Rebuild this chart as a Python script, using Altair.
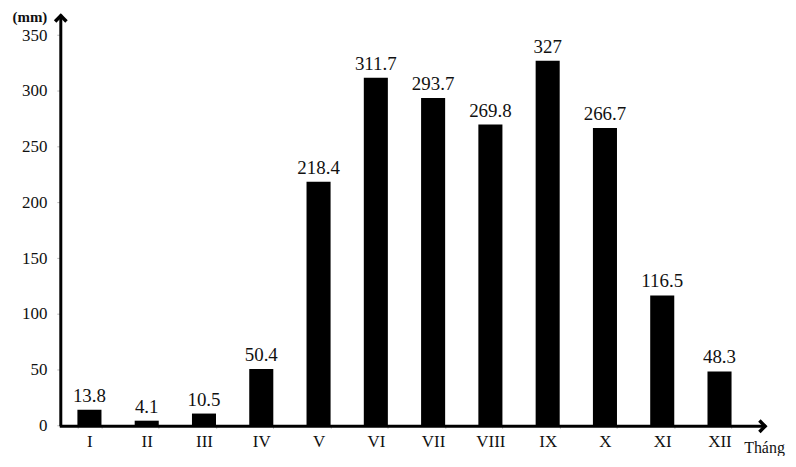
import altair as alt
import pandas as pd

months = ["I", "II", "III", "IV", "V", "VI", "VII", "VIII", "IX", "X", "XI", "XII"]
rain = [13.8, 4.1, 10.5, 50.4, 218.4, 311.7, 293.7, 269.8, 327, 266.7, 116.5, 48.3]
y_ticks = [0, 50, 100, 150, 200, 250, 300, 350]

df = pd.DataFrame({"month": months, "rain": rain, "label": [f"{v:g}" for v in rain]})
one = pd.DataFrame({"k": [0]})

W, H = 710, 414
FONT = "Liberation Serif"

xs = alt.X("month:N", sort=months,
           scale=alt.Scale(range=[0, 690], paddingInner=0.58, paddingOuter=0.29),
           axis=alt.Axis(title=None, domain=False, labelAngle=0, labelFont=FONT, labelFontSize=17,
                         labelColor="#111", tickColor="#bbb", tickSize=3, tickBand="extent",
                         labelPadding=5))
ys = alt.Y("rain:Q", scale=alt.Scale(domain=[0, 370], nice=False),
           axis=alt.Axis(title=None, domain=False, values=y_ticks, labelFont=FONT, labelFontSize=17,
                         labelColor="#111", tickColor="#bbb", tickSize=4, labelPadding=10,
                         grid=False))

base = alt.Chart(df)
bars = base.mark_bar(color="black").encode(x=xs, y=ys)
labels = base.mark_text(font=FONT, fontSize=19, baseline="bottom", dy=-4, color="#111").encode(
    x=alt.X("month:N", sort=months), y="rain:Q", text="label:N")

yaxis = alt.Chart(one).mark_rule(color="black", strokeWidth=3).encode(
    x=alt.value(0), y=alt.value(2), y2=alt.value(H + 1))
xaxis = alt.Chart(one).mark_rule(color="black", strokeWidth=3).encode(
    x=alt.value(-1), x2=alt.value(W - 2), y=alt.value(H + 1))
up_arrow = alt.Chart(one).mark_point(shape="M-1,1L0,0L1,1", filled=False, color="black",
                                     strokeWidth=3.5, size=130, opacity=1).encode(
    x=alt.value(0), y=alt.value(3))
right_arrow = alt.Chart(one).mark_point(shape="M-1,-1L0,0L-1,1", filled=False, color="black",
                                        strokeWidth=3.5, size=130, opacity=1).encode(
    x=alt.value(W - 3), y=alt.value(H + 1))
mm = alt.Chart(one).mark_text(text="(mm)", font=FONT, fontSize=15, fontWeight="bold",
                              baseline="top", color="#111").encode(x=alt.value(-31), y=alt.value(-3))
thang = alt.Chart(one).mark_text(text="Tháng", font=FONT, fontSize=16, align="left",
                                 color="#111").encode(x=alt.value(686), y=alt.value(H + 23))

chart = alt.layer(bars, labels, yaxis, xaxis, up_arrow, right_arrow, mm, thang).properties(
    width=W, height=H,
    autosize=alt.AutoSizeParams(type="none"),
    padding={"left": 53, "top": 4, "right": 20, "bottom": 30},
).configure_view(stroke=None)

chart.save("out.html", embed_options={"renderer": "svg", "actions": False})
